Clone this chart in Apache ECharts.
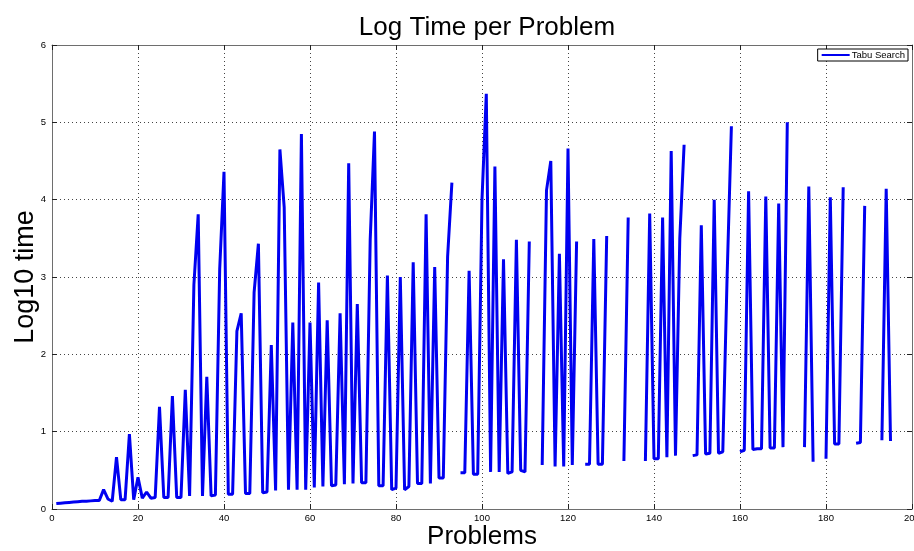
<!DOCTYPE html>
<html>
<head>
<meta charset="utf-8">
<title>Log Time per Problem</title>
<script src="https://cdn.jsdelivr.net/npm/echarts@6/dist/echarts.min.js"></script>
<style>
  html, body { margin: 0; padding: 0; background: #fff; }
  #chart { width: 914px; height: 551px; }
</style>
</head>
<body>
<div id="chart"></div>
<script>
// Problem index (1..195)
const problems = [];
for (let i = 1; i <= 195; i++) problems.push(i);

// log10 of run time per problem; null marks problems with no recorded time
const logTime = [
  0.07, 0.075, 0.08, 0.085, 0.09, 0.095, 0.1, 0.1, 0.105, 0.11,          // 1-10
  0.11, 0.25, 0.13, 0.1, 0.67, 0.12, 0.12, 0.97, 0.12, 0.41,             // 11-20
  0.14, 0.22, 0.14, 0.15, 1.32, 0.15, 0.15, 1.46, 0.15, 0.15,            // 21-30
  1.54, 0.17, 2.9, 3.81, 0.17, 1.71, 0.17, 0.18, 3.1, 4.36,              // 31-40
  0.19, 0.19, 2.3, 2.53, 0.2, 0.2, 2.8, 3.43, 0.21, 0.22,                // 41-50
  2.12, 0.24, 4.65, 3.9, 0.25, 2.41, 0.25, 4.85, 0.25, 2.41,             // 51-60
  0.28, 2.93, 0.29, 2.44, 0.3, 0.31, 2.53, 0.32, 4.47, 0.33,             // 61-70
  2.65, 0.34, 0.34, 3.48, 4.88, 0.3, 0.3, 3.02, 0.25, 0.27,              // 71-80
  3.0, 0.25, 0.29, 3.19, 0.33, 0.33, 3.81, 0.33, 3.13, 0.4,              // 81-90
  0.4, 3.26, 4.22, null, 0.47, 0.47, 3.08, 0.45, 0.45, 4.0,              // 91-100
  5.37, 0.48, 4.43, 0.48, 3.23, 0.46, 0.48, 3.48, 0.5, 0.48,             // 101-110
  3.46, null, null, 0.57, 4.12, 4.5, 0.55, 3.3, 0.55, 4.66,              // 111-120
  0.57, 3.46, null, 0.58, 0.58, 3.49, 0.58, 0.58, 3.53, null,            // 121-130
  0.62, null, 0.62, 3.77, null, 0.62, null, 0.62, 3.82, 0.65,            // 131-140
  0.65, 3.77, 0.67, 4.63, 0.69, 3.5, 4.71, null, 0.69, 0.7,              // 141-150
  3.67, 0.71, 0.72, 4.0, 0.72, 0.74, 3.0, 4.95, null, 0.74,              // 151-160
  0.76, 4.11, 0.77, 0.78, 0.78, 4.04, 0.79, 0.79, 3.95, 0.8,             // 161-170
  5.0, null, null, null, 0.8, 4.17, 0.61, null, null, 0.65,              // 171-180
  4.03, 0.84, 0.84, 4.16, null, null, 0.85, 0.86, 3.92, null,            // 181-190
  0.87, null, 0.89, 4.14, 0.88                                           // 191-195
];

const xTicks = { min: 0, max: 200, interval: 20 };
const yTicks = { min: 0, max: 6, interval: 1 };

const seriesName = 'Tabu Search';

const points = problems.map((p, i) => [p, logTime[i] === null ? '-' : logTime[i]]);

const tickFont = { fontFamily: 'Liberation Sans Narrow, Liberation Sans, Arial', fontSize: 9.5, color: '#000' };
const frameColor = '#6e6e6e';
const gridLine = { show: true, lineStyle: { color: '#444', width: 1, type: [1, 3] } };

const chart = echarts.init(document.getElementById('chart'), null, { renderer: 'canvas' });
chart.setOption({
  animation: false,
  backgroundColor: '#fff',
  title: {
    text: 'Log Time per Problem',
    left: 482, textAlign: 'center', top: 10,
    textStyle: { fontFamily: 'Liberation Sans, Arial', fontSize: 26, fontWeight: 'normal', color: '#000' }
  },
  legend: {
    data: [seriesName],
    right: 6, top: 49,
    padding: [1, 3, 1, 4],
    borderColor: '#000', borderWidth: 1, backgroundColor: '#fff',
    icon: 'rect', itemWidth: 28, itemHeight: 2, itemGap: 0,
    textStyle: { fontFamily: 'Liberation Sans, Arial', fontSize: 9.5, color: '#000', padding: [0, 0, 0, -3] }
  },
  grid: { left: 52, right: 2, top: 45, bottom: 42, outerBoundsMode: 'none', containLabel: false },
  xAxis: [
    {
      type: 'value', min: xTicks.min, max: xTicks.max, interval: xTicks.interval,
      name: 'Problems', nameLocation: 'middle', nameGap: 15, nameMoveOverlap: false,
      nameTextStyle: { fontFamily: 'Liberation Sans, Arial', fontSize: 26, color: '#000' },
      axisLine: { show: true, onZero: false, lineStyle: { color: frameColor, width: 1 } },
      axisTick: { show: true, inside: true, length: 5, lineStyle: { color: '#222' } },
      axisLabel: Object.assign({ margin: 4 }, tickFont),
      splitLine: gridLine
    },
    {
      type: 'value', position: 'top', min: xTicks.min, max: xTicks.max, interval: xTicks.interval,
      axisLine: { show: true, onZero: false, lineStyle: { color: frameColor, width: 1 } },
      axisTick: { show: true, inside: true, length: 5, lineStyle: { color: '#222' } },
      axisLabel: { show: false },
      splitLine: { show: false }
    }
  ],
  yAxis: [
    {
      type: 'value', min: yTicks.min, max: yTicks.max, interval: yTicks.interval,
      name: 'Log10 time', nameLocation: 'middle', nameGap: 13, nameRotate: 90, nameMoveOverlap: false,
      nameTextStyle: { fontFamily: 'Liberation Sans, Arial', fontSize: 27, color: '#000' },
      axisLine: { show: true, onZero: false, lineStyle: { color: frameColor, width: 1 } },
      axisTick: { show: true, inside: true, length: 5, lineStyle: { color: '#222' } },
      axisLabel: Object.assign({ margin: 6 }, tickFont),
      splitLine: gridLine
    },
    {
      type: 'value', position: 'right', min: yTicks.min, max: yTicks.max, interval: yTicks.interval,
      axisLine: { show: true, onZero: false, lineStyle: { color: frameColor, width: 1 } },
      axisTick: { show: true, inside: true, length: 5, lineStyle: { color: '#222' } },
      axisLabel: { show: false },
      splitLine: { show: false }
    }
  ],
  series: [
    {
      name: seriesName,
      type: 'line',
      xAxisIndex: 0, yAxisIndex: 0,
      data: points,
      showSymbol: false,
      connectNulls: false,
      lineStyle: { color: '#0000f0', width: 3 },
      itemStyle: { color: '#0000f0' }
    }
  ]
});
</script>
</body>
</html>
